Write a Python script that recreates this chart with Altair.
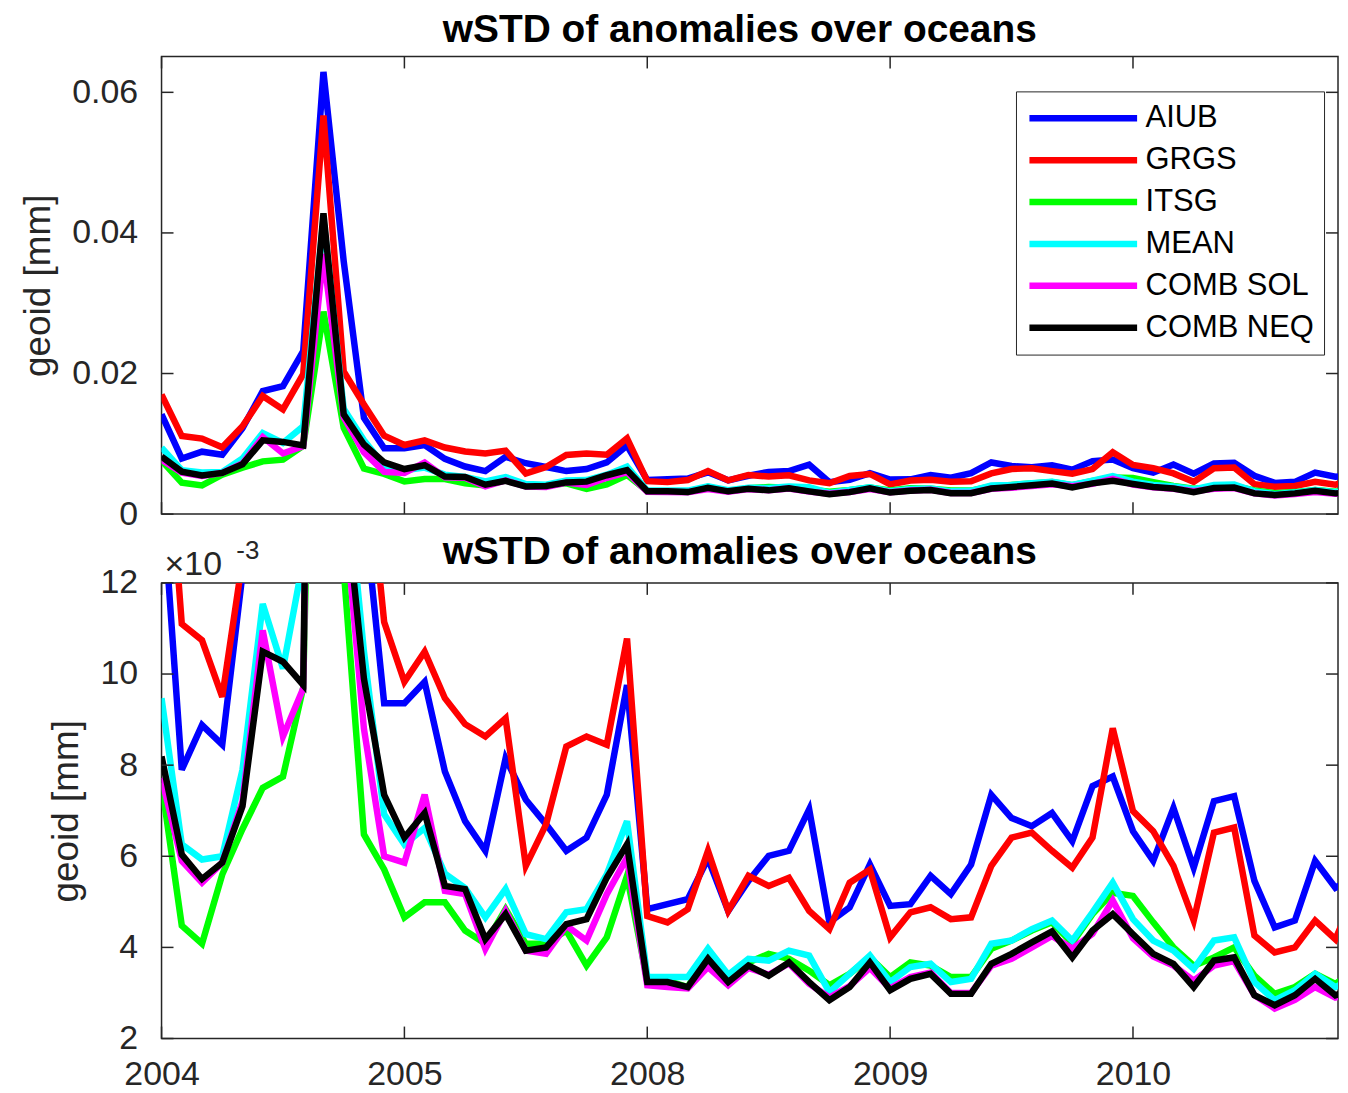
import altair as alt
import pandas as pd

# ---------------- data (values in units of 1e-3 mm) ----------------
months = list(range(60))
series_names = ["AIUB", "GRGS", "ITSG", "MEAN", "COMB SOL", "COMB NEQ"]
series_colors = ["#0000ff", "#ff0000", "#00ff00", "#00ffff", "#ff00ff", "#000000"]

aiub = [14.2, 7.9, 8.88, 8.45, 12.2, 17.5, 18.2, 23.2, 62.9, 36.0,
        13.7, 9.36, 9.36, 9.83, 7.86, 6.77, 6.12, 8.15, 7.24, 6.70,
        6.12, 6.41, 7.35, 9.76, 4.84, 4.95, 5.06, 5.95, 4.80, 5.46,
        6.01, 6.12, 7.03, 4.55, 4.88, 5.82, 4.91, 4.95, 5.57, 5.17,
        5.82, 7.35, 6.84, 6.66, 6.95, 6.33, 7.54, 7.75, 6.55, 5.90,
        7.06, 5.75, 7.21, 7.32, 5.46, 4.44, 4.59, 5.90, 5.31, 5.55]
grgs = [17.0, 11.1, 10.74, 9.5, 12.5, 16.8, 14.9, 19.9, 56.7, 20.3,
        15.6, 11.14, 9.83, 10.49, 9.47, 8.9, 8.63, 9.03, 5.79, 6.70,
        8.41, 8.63, 8.45, 10.78, 4.69, 4.55, 4.84, 6.12, 4.80, 5.57,
        5.35, 5.53, 4.80, 4.40, 5.42, 5.71, 4.22, 4.77, 4.88, 4.62,
        4.66, 5.79, 6.41, 6.52, 6.12, 5.75, 6.41, 8.81, 6.99, 6.55,
        5.79, 4.59, 6.52, 6.63, 4.26, 3.89, 4.00, 4.59, 4.18, 5.2]
itsg = [7.61, 4.48, 4.08, 5.6, 6.6, 7.5, 7.75, 9.7, 28.8, 12.3,
        6.48, 5.71, 4.66, 4.99, 4.99, 4.37, 4.08, 4.84, 4.08, 4.08,
        4.37, 3.60, 4.22, 5.57, 3.27, 3.27, 3.13, 3.89, 3.25, 3.67,
        3.86, 3.75, 3.49, 3.17, 3.42, 3.78, 3.35, 3.67, 3.60, 3.35,
        3.35, 3.97, 4.15, 4.37, 4.55, 4.10, 4.73, 5.20, 5.13, 4.55,
        4.00, 3.60, 3.78, 4.00, 3.38, 2.98, 3.13, 3.42, 3.20, 3.5]
mean = [9.47, 6.26, 5.93, 6.0, 7.9, 11.54, 10.12, 12.5, 42.0, 15.0,
        10.5, 6.92, 6.26, 6.62, 5.62, 5.30, 4.66, 5.28, 4.29, 4.18,
        4.77, 4.84, 5.6, 6.77, 3.35, 3.35, 3.35, 3.97, 3.40, 3.75,
        3.71, 3.93, 3.82, 3.02, 3.42, 3.82, 3.24, 3.57, 3.64, 3.24,
        3.31, 4.08, 4.15, 4.40, 4.59, 4.15, 4.77, 5.42, 4.62, 4.15,
        3.93, 3.53, 4.15, 4.22, 3.24, 2.84, 3.06, 3.42, 3.13, 3.35]
comb_sol = [7.72, 5.9, 5.42, 5.86, 7.2, 10.96, 8.63, 9.68, 37.0, 13.8,
            8.8, 6.0, 5.86, 7.35, 5.24, 5.17, 3.97, 4.80, 3.93, 3.86,
            4.48, 4.15, 5.17, 5.97, 3.17, 3.13, 3.10, 3.57, 3.17, 3.55,
            3.40, 3.65, 3.20, 2.90, 3.15, 3.55, 3.10, 3.35, 3.45, 3.00,
            3.00, 3.60, 3.75, 4.00, 4.25, 3.97, 4.30, 5.03, 4.20, 3.80,
            3.60, 3.27, 3.60, 3.70, 2.95, 2.66, 2.85, 3.13, 2.90, 3.0]
comb_neq = [8.19, 6.04, 5.50, 5.86, 7.10, 10.49, 10.27, 9.76, 42.8, 14.2,
            9.9, 7.35, 6.41, 6.95, 5.35, 5.28, 4.18, 4.73, 3.93, 4.00,
            4.51, 4.62, 5.53, 6.26, 3.24, 3.24, 3.13, 3.75, 3.24, 3.60,
            3.38, 3.67, 3.24, 2.84, 3.13, 3.67, 3.06, 3.31, 3.42, 2.98,
            2.98, 3.64, 3.86, 4.11, 4.35, 3.78, 4.37, 4.73, 4.29, 3.86,
            3.64, 3.13, 3.71, 3.78, 2.95, 2.73, 2.95, 3.31, 2.95, 3.1]

xtick_values = [0, 12, 24, 36, 48]
xtick_labels = ["2004", "2005", "2008", "2009", "2010"]
top_yticks = [0, 0.02, 0.04, 0.06]
bottom_yticks = [2, 4, 6, 8, 10, 12]
title_text = "wSTD of anomalies over oceans"
y_title = "geoid [mm]"
exp_base = ["×10"]
exp_power = ["-3"]

rows = []
for name, vals in zip(series_names, [aiub, grgs, itsg, mean, comb_sol, comb_neq]):
    for m, v in zip(months, vals):
        rows.append({"month": m, "series": name, "val": v})
df = pd.DataFrame(rows)
df_top = df.assign(val=df["val"] / 1000.0)

# ---------------- layout / style ----------------
W = 1180
H_TOP = 459
H_BOT = 457
X_DOMAIN = [0, 58.13]
TOP_DOMAIN = [0, 0.0651]
BOT_DOMAIN = [2, 12]
FONT = "Liberation Sans"
AX = "#262626"
TICK = 12

label_expr = " : ".join(
    f"datum.value == {v} ? '{l}'" for v, l in zip(xtick_values, xtick_labels)
) + " : ''"

xscale = alt.Scale(domain=X_DOMAIN, nice=False, zero=False)
color_scale = alt.Scale(domain=series_names, range=series_colors)


def tick_layers(h, yvals, yscale, yaxis):
    xt = pd.DataFrame({"month": xtick_values})
    yt = pd.DataFrame({"val": yvals})
    base_x = alt.Chart(xt).mark_rule(color=AX, strokeWidth=1.5)
    base_y = alt.Chart(yt).mark_rule(color=AX, strokeWidth=1.5)
    return [
        base_x.encode(x=alt.X("month:Q", scale=xscale),
                      y=alt.value(h), y2=alt.value(h - TICK)),
        base_x.encode(x=alt.X("month:Q", scale=xscale),
                      y=alt.value(0), y2=alt.value(TICK)),
        base_y.encode(y=alt.Y("val:Q", scale=yscale, axis=yaxis),
                      x=alt.value(0), x2=alt.value(TICK)),
        base_y.encode(y=alt.Y("val:Q", scale=yscale, axis=yaxis),
                      x=alt.value(W), x2=alt.value(W - TICK)),
    ]


def make_title(offset):
    return alt.TitleParams(
        title_text, font=FONT, fontSize=39, fontWeight="bold", color="black",
        anchor="middle", offset=offset, dx=-10, baseline="alphabetic",
    )


# ---------------- top panel ----------------
top_yscale = alt.Scale(domain=TOP_DOMAIN, nice=False, zero=False)
top_yaxis = alt.Axis(values=top_yticks, format=".2~f", ticks=False, domain=False,
                     grid=False, labelPadding=24, title=y_title, titlePadding=14)
top_xaxis = alt.Axis(values=xtick_values, labels=False, ticks=False, domain=False,
                     grid=False, title=None)

top_lines = alt.Chart(df_top).mark_line(strokeWidth=6.5, clip=True).encode(
    x=alt.X("month:Q", scale=xscale, axis=top_xaxis),
    y=alt.Y("val:Q", scale=top_yscale, axis=top_yaxis),
    color=alt.Color("series:N", scale=color_scale, sort=series_names,
                    legend=alt.Legend(orient="none", legendX=857, legendY=35, title=None,
                                      direction="vertical", symbolType="stroke",
                                      symbolSize=108 * 108, symbolStrokeWidth=6.5,
                                      clipHeight=34, rowPadding=8, padding=10,
                                      symbolOffset=0, labelOffset=5,
                                      labelFont=FONT, labelFontSize=31, labelColor="black",
                                      labelLimit=400, strokeColor=AX, fillColor="white")),
)

top = alt.layer(top_lines, *tick_layers(H_TOP, top_yticks, top_yscale, top_yaxis)).properties(
    width=W, height=H_TOP, title=make_title(-25)
)

# ---------------- bottom panel ----------------
bot_yscale = alt.Scale(domain=BOT_DOMAIN, nice=False, zero=False)
bot_yaxis = alt.Axis(values=bottom_yticks, format="d", ticks=False, domain=False,
                     grid=False, labelPadding=24, title=y_title, titlePadding=14)
bot_xaxis = alt.Axis(values=xtick_values, labelExpr=label_expr, ticks=False,
                     domain=False, grid=False, labelPadding=19, labelFlush=False,
                     title=None)

bot_lines = alt.Chart(df).mark_line(strokeWidth=6.5, clip=True).encode(
    x=alt.X("month:Q", scale=xscale, axis=bot_xaxis),
    y=alt.Y("val:Q", scale=bot_yscale, axis=bot_yaxis),
    color=alt.Color("series:N", scale=color_scale, sort=series_names, legend=None),
)

exp_a = alt.Chart(pd.DataFrame({"t": exp_base})).mark_text(
    font=FONT, fontSize=34, color=AX, align="left", baseline="alphabetic"
).encode(text="t:N", x=alt.value(3), y=alt.value(-8))
exp_b = alt.Chart(pd.DataFrame({"t": exp_power})).mark_text(
    font=FONT, fontSize=26, color=AX, align="left", baseline="alphabetic"
).encode(text="t:N", x=alt.value(75), y=alt.value(-24))

bottom = alt.layer(bot_lines, *tick_layers(H_BOT, bottom_yticks, bot_yscale, bot_yaxis),
                   exp_a, exp_b).properties(
    width=W, height=H_BOT, title=make_title(-65)
)

chart = alt.vconcat(top, bottom, spacing=0).resolve_scale(
    color="independent", y="independent", x="independent"
).properties(
    padding={"left": 11, "top": 0, "right": 0, "bottom": 0}
).configure_view(
    stroke=AX, strokeWidth=1.5
).configure_axis(
    labelFont=FONT, labelFontSize=34, labelColor=AX,
    titleFont=FONT, titleFontSize=37, titleFontWeight="normal", titleColor=AX,
)

chart.save("out.html", embed_options={"renderer": "svg", "actions": False})
